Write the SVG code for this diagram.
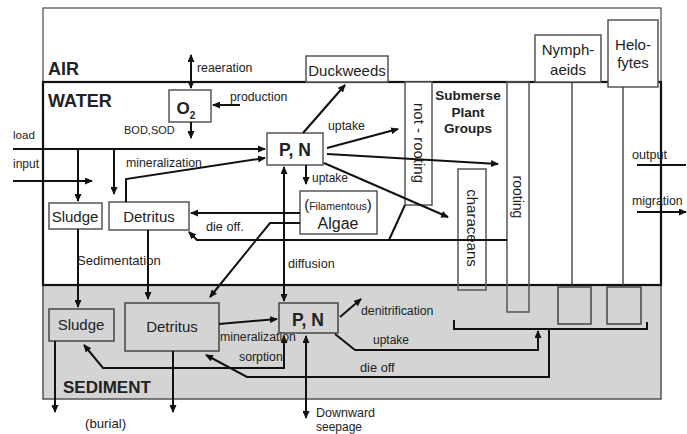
<svg xmlns="http://www.w3.org/2000/svg" width="687" height="434" viewBox="0 0 687 434">
<defs>
<marker id="ah" viewBox="0 0 8 7" refX="7" refY="3.5" markerWidth="8" markerHeight="7" markerUnits="userSpaceOnUse" orient="auto-start-reverse">
<path d="M0,0 L8,3.5 L0,7 z" fill="#111"/>
</marker>
<style>
text{font-family:"Liberation Sans",Arial,sans-serif;fill:#222}
.lb{font-size:12.3px}
.bx{fill:#fff;stroke:#555;stroke-width:1.5}
.ob{fill:none;stroke:#555;stroke-width:1.5}
.gb{fill:#d4d4d4;stroke:#444;stroke-width:1.5}
.bn{font-size:15px;text-anchor:middle}
.pn{font-size:17.5px;font-weight:bold;text-anchor:middle}
.c{fill:none;stroke:#111;stroke-width:2}
.a{marker-end:url(#ah)}
.ab{marker-start:url(#ah);marker-end:url(#ah)}
.thin{fill:none;stroke:#333;stroke-width:1.3}
.hd{font-weight:bold}
</style>
</defs>
<rect width="687" height="434" fill="#fff"/>
<!-- compartments -->
<g id="air">
<rect x="43" y="8" width="618" height="74" fill="#fff" stroke="#555" stroke-width="1.3"/>
<text x="48" y="75" class="hd" font-size="18">AIR</text>
</g>
<g id="sediment">
<rect x="43" y="285" width="618" height="114" fill="#d4d4d4" stroke="#555" stroke-width="1.5"/>
<text x="63" y="393" class="hd" font-size="17">SEDIMENT</text>
</g>
<g id="water">
<rect x="43" y="82" width="618" height="203" fill="#fff" stroke="#111" stroke-width="2.2"/>
<text x="48" y="107" class="hd" font-size="18">WATER</text>
</g>
<!-- plant structure -->
<g id="plants">
<rect x="405" y="82" width="27" height="123" class="bx"/>
<text transform="translate(414,143) rotate(90)" font-size="15" text-anchor="middle">not - rooting</text>
<text x="468" y="100" class="hd" font-size="13.5" text-anchor="middle">Submerse</text>
<text x="468" y="117" class="hd" font-size="13.5" text-anchor="middle">Plant</text>
<text x="468" y="133" class="hd" font-size="13.5" text-anchor="middle">Groups</text>
<rect x="458" y="169" width="28" height="121" class="ob"/>
<text transform="translate(467,228) rotate(90)" font-size="15" text-anchor="middle">characeans</text>
<rect x="507" y="82" width="22" height="230" class="ob"/>
<text transform="translate(513,197) rotate(90)" font-size="14" text-anchor="middle">rooting</text>
</g>
<g id="nymphaeids">
<rect x="535" y="35" width="66" height="47" class="bx"/>
<text x="568" y="55" class="bn" font-size="15.5">Nymph-</text>
<text x="568" y="75" class="bn" font-size="15.5">aeids</text>
<line x1="572" y1="82" x2="572" y2="287" class="thin"/>
<rect x="558" y="287" width="33" height="37" class="gb"/>
</g>
<g id="helofytes">
<rect x="608" y="20" width="50" height="67" class="bx"/>
<text x="633" y="50" class="bn" font-size="15.5">Helo-</text>
<text x="633" y="68" class="bn" font-size="15.5">fytes</text>
<line x1="623" y1="87" x2="623" y2="287" class="thin"/>
<rect x="607" y="287" width="34" height="37" class="gb"/>
</g>
<!-- nodes -->
<g id="o2">
<rect x="169" y="90" width="42" height="32" class="bx"/>
<text x="186" y="114" font-size="17" font-weight="bold" text-anchor="middle">O<tspan font-size="10" dy="5">2</tspan></text>
</g>
<g id="pn-water">
<rect x="267" y="133" width="56" height="32" class="bx"/>
<text x="295" y="156" class="pn">P, N</text>
</g>
<g id="duckweeds">
<rect x="306" y="56" width="82" height="26" class="bx"/>
<text x="347" y="76" class="bn">Duckweeds</text>
</g>
<g id="algae">
<rect x="300" y="191" width="77" height="43" class="bx"/>
<text x="338" y="210" font-size="10.6" text-anchor="middle"><tspan font-size="15">(</tspan>Filamentous<tspan font-size="15">)</tspan></text>
<text x="338" y="229" font-size="16" text-anchor="middle">Algae</text>
</g>
<g id="sludge-water">
<rect x="49" y="203" width="53" height="26" class="bx"/>
<text x="75" y="222" class="bn">Sludge</text>
</g>
<g id="detritus-water">
<rect x="109" y="202" width="80" height="28" class="bx"/>
<text x="149" y="222" class="bn">Detritus</text>
</g>
<g id="sludge-sediment">
<rect x="49" y="309" width="65" height="32" class="gb"/>
<text x="81" y="330" class="bn">Sludge</text>
</g>
<g id="detritus-sediment">
<rect x="125" y="303" width="94" height="48" class="gb"/>
<text x="172" y="332" class="bn">Detritus</text>
</g>
<g id="pn-sediment">
<rect x="279" y="303" width="59" height="30" class="gb"/>
<text x="308" y="326" class="pn">P, N</text>
</g>
<!-- connectors -->
<g id="connectors">
<path d="M191,88 V55" class="c ab"/>
<path d="M191,122 V138" class="c a"/>
<path d="M240,105 H213" class="c a"/>
<path d="M13,149 H265" class="c a"/>
<path d="M78,149 V201" class="c a"/>
<path d="M114,149 V194" class="c a"/>
<path d="M13,181 H92" class="c a"/>
<path d="M126,202 V179 L265,158" class="c a"/>
<path d="M303,133 L345,85" class="c a"/>
<path d="M327,148 L398,129" class="c a"/>
<path d="M327,154 L498,164" class="c a"/>
<path d="M324,163 L448,217" class="c a"/>
<path d="M306,165 V184" class="c a"/>
<path d="M300,213 H191" class="c a"/>
<path d="M300,223 H270 L210,297" class="c a"/>
<path d="M507,240 H197 L189,232" class="c a"/>
<path d="M405,205 L389,240" class="c"/>
<path d="M284,167 V301" class="c ab"/>
<path d="M78,229 V307" class="c a"/>
<path d="M148,230 V299" class="c a"/>
<path d="M55,341 V412" class="c a"/>
<path d="M173,351 V412" class="c a"/>
<path d="M219,324 L277,319" class="c a"/>
<path d="M340,317 L361,299" class="c a"/>
<path d="M306,336 V418" class="c ab"/>
<path d="M454,320 V329 H647 V322" class="c"/>
<path d="M335,334 L355,350 H538 V331" class="c a"/>
<path d="M549,329 V377 H247 L206,355" class="c a"/>
<path d="M84,345 L103,368 H284 V336" class="c ab"/>
<path d="M637,165 H686" class="c"/>
<path d="M637,212 H686" class="c a"/>
</g>
<!-- labels -->
<g id="labels">
<text x="197" y="72" class="lb">reaeration</text>
<text x="230" y="101" class="lb">production</text>
<text x="124" y="134" font-size="11">BOD,SOD</text>
<text x="13" y="139" font-size="11.6">load</text>
<text x="13" y="168" font-size="12">input</text>
<text x="126" y="167" class="lb">mineralization</text>
<text x="328" y="130" class="lb">uptake</text>
<text x="312" y="182" font-size="12">uptake</text>
<text x="206" y="231" font-size="12.7">die off.</text>
<text x="77" y="265" font-size="13.1">Sedimentation</text>
<text x="288" y="268" font-size="12.6">diffusion</text>
<text x="632" y="159" font-size="12.6">output</text>
<text x="632" y="205" class="lb">migration</text>
<text x="220" y="341" class="lb">mineralization</text>
<text x="239" y="361" class="lb">sorption</text>
<text x="361" y="315" class="lb">denitrification</text>
<text x="373" y="344" font-size="12">uptake</text>
<text x="360" y="372" font-size="12.8">die off</text>
<text x="316" y="417" font-size="12.5">Downward</text>
<text x="316" y="431" font-size="12">seepage</text>
<text x="85" y="428" font-size="13.2">(burial)</text>
</g>
</svg>
